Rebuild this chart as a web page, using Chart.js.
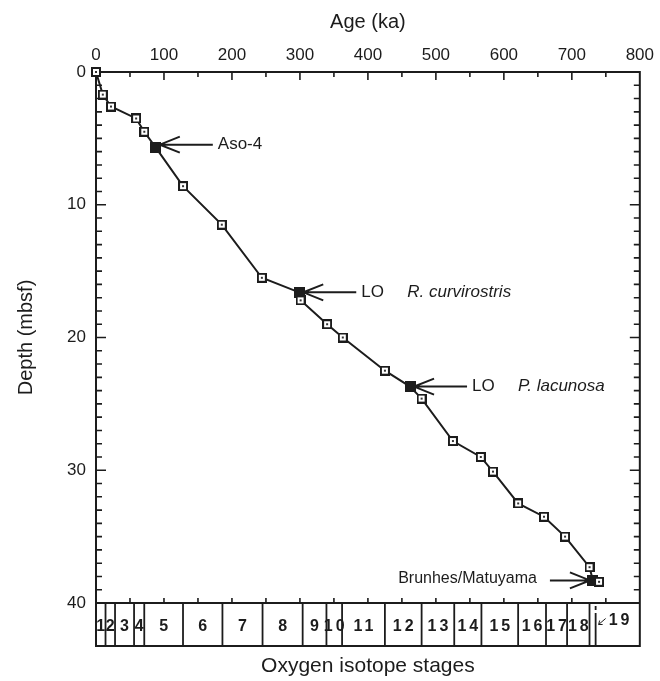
<!DOCTYPE html>
<html>
<head>
<meta charset="utf-8">
<script src="https://cdn.jsdelivr.net/npm/chart.js@4.4.1/dist/chart.umd.min.js"></script>
<style>
  body { margin: 0; background: #fff; }
</style>
</head>
<body>
<canvas id="ageDepth" width="660" height="681"></canvas>
<script>
// age-depth points, ka vs mbsf
const ages = [0, 10, 22, 59, 71, 88, 128, 185, 244, 299, 301, 340, 363, 425, 462, 479, 525, 566, 584, 621, 659, 690, 726, 731, 740];
const depths = [0, 1.7, 2.6, 3.5, 4.5, 5.7, 8.6, 11.5, 15.5, 16.6, 17.2, 19.0, 20.0, 22.5, 23.7, 24.6, 27.8, 29.0, 30.1, 32.5, 33.5, 35.0, 37.3, 38.3, 38.4];

// datum levels (index into the series above)
const datumIndex = [5, 9, 14, 23];
const datumLabels = ["Aso-4", "LO", "LO", "Brunhes/Matuyama"];
const datumTaxa = [null, "R. curvirostris", "P. lacunosa", null];

// oxygen isotope stage boundaries (ka) and names
const stageBounds = [0, 14, 28, 56, 71, 128, 186, 245, 304, 339, 362, 425, 479, 527, 567, 621, 662, 693, 726, 735, 800];
const stageLabels = ["1", "2", "3", "4", "5", "6", "7", "8", "9", "10", "11", "12", "13", "14", "15", "16", "17", "18", "19", ""];

const ageTicks = [0, 100, 200, 300, 400, 500, 600, 700, 800];
const depthTicks = [0, 10, 20, 30, 40];

const ink = "#1c1c1c";
const fontFamily = '"Liberation Sans", Arial, Helvetica, sans-serif';
const bandHeight = 43;

function makeMark(filled) {
	const c = document.createElement("canvas");
	const s = filled ? 11 : 10;
	c.width = c.height = s;
	const g = c.getContext("2d");
	g.fillStyle = ink;
	g.fillRect(0, 0, s, s);
	if (!filled) {
		g.fillStyle = "#fff";
		g.fillRect(2, 2, 6, 6);
		g.fillStyle = "#333";
		g.fillRect(4, 4, 2, 2);
	}
	return c;
}
const openMark = makeMark(false);
const solidMark = makeMark(true);

function arrow(ctx, tipX, tipY, tailX, dir) {
	// open arrowhead pointing toward the tip, dir = +1 when the tail is on the right
	ctx.beginPath();
	ctx.moveTo(tailX, tipY);
	ctx.lineTo(tipX, tipY);
	ctx.moveTo(tipX + dir * 20, tipY - 8);
	ctx.lineTo(tipX, tipY);
	ctx.lineTo(tipX + dir * 20, tipY + 8);
	ctx.stroke();
}

const framePlugin = {
	id: "frame",
	beforeDatasetsDraw(chart) {
		const { ctx, chartArea: a, scales: { x, y } } = chart;
		const bandBottom = a.bottom + bandHeight;
		ctx.save();
		ctx.strokeStyle = ink;
		ctx.lineWidth = 2;
		ctx.strokeRect(a.left, a.top, a.right - a.left, bandBottom - a.top);
		ctx.beginPath();
		ctx.moveTo(a.left, a.bottom);
		ctx.lineTo(a.right, a.bottom);
		ctx.stroke();

		// inward ticks
		ctx.lineWidth = 1.6;
		ctx.beginPath();
		for (let v = 50; v < 800; v += 50) {
			const px = x.getPixelForValue(v);
			ctx.moveTo(px, a.top);
			ctx.lineTo(px, a.top + (v % 100 === 0 ? 8 : 5));
			ctx.moveTo(px, a.bottom);
			ctx.lineTo(px, a.bottom - 5);
		}
		for (let d = 1; d < 40; d++) {
			const py = y.getPixelForValue(d);
			const len = d % 10 === 0 ? 10 : 6;
			ctx.moveTo(a.left, py);
			ctx.lineTo(a.left + len, py);
			ctx.moveTo(a.right, py);
			ctx.lineTo(a.right - len, py);
		}
		ctx.stroke();

		// isotope stage band: solid boundaries, the last one (start of the unnamed box) broken at the top
		ctx.lineWidth = 1.8;
		stageBounds.slice(1, -1).forEach((b, i) => {
			const px = x.getPixelForValue(b);
			ctx.beginPath();
			if (stageLabels[i + 1] === "") {
				ctx.moveTo(px, a.bottom + 3);
				ctx.lineTo(px, a.bottom + 7);
				ctx.moveTo(px, a.bottom + 10);
			} else {
				ctx.moveTo(px, a.bottom);
			}
			ctx.lineTo(px, bandBottom);
			ctx.stroke();
		});

		ctx.fillStyle = ink;
		ctx.font = "bold 16px " + fontFamily;
		ctx.textBaseline = "middle";
		ctx.textAlign = "center";
		const labelY = a.bottom + bandHeight / 2 + 2;
		stageLabels.forEach((lab, i) => {
			if (!lab) return;
			const x0 = x.getPixelForValue(stageBounds[i]);
			const x1 = x.getPixelForValue(stageBounds[i + 1]);
			ctx.letterSpacing = lab.length > 1 ? "3px" : "0px";
			if (x1 - x0 < 8) {
				// too narrow: label sits in the next box with a pointer
				ctx.textAlign = "left";
				ctx.fillText(lab, x1 + 13, labelY - 6);
				ctx.lineWidth = 1;
				ctx.beginPath();
				ctx.moveTo(x1 + 10, labelY - 8);
				ctx.lineTo(x1 + 3, labelY - 2);
				ctx.moveTo(x1 + 3, labelY - 2);
				ctx.lineTo(x1 + 4, labelY - 6);
				ctx.moveTo(x1 + 3, labelY - 2);
				ctx.lineTo(x1 + 7, labelY - 2);
				ctx.stroke();
				ctx.textAlign = "center";
			} else {
				ctx.fillText(lab, (x0 + x1) / 2 + (lab.length > 1 ? 1.5 : 0), labelY);
			}
		});
		ctx.letterSpacing = "0px";

		ctx.font = "21px " + fontFamily;
		ctx.fillText("Oxygen isotope stages", (a.left + a.right) / 2, 666);
		ctx.restore();
	},
	afterDatasetsDraw(chart) {
		const { ctx, scales: { x, y } } = chart;
		ctx.save();
		ctx.strokeStyle = ink;
		ctx.fillStyle = ink;
		ctx.lineWidth = 2;
		ctx.textBaseline = "middle";
		datumIndex.forEach((idx, k) => {
			const px = x.getPixelForValue(ages[idx]);
			const py = y.getPixelForValue(depths[idx]);
			if (k === datumIndex.length - 1) {
				arrow(ctx, px - 3, py, px - 43, -1);
				ctx.font = "16px " + fontFamily;
				ctx.textAlign = "right";
				ctx.fillText(datumLabels[k], px - 56, py - 2);
				return;
			}
			const ay = k === 0 ? py - 3 : py;
			arrow(ctx, px + 4, ay, px + 57, 1);
			ctx.textAlign = "left";
			ctx.font = "17px " + fontFamily;
			ctx.fillText(datumLabels[k], px + 62, ay);
			if (datumTaxa[k]) {
				ctx.font = "italic 17px " + fontFamily;
				ctx.fillText(datumTaxa[k], px + 108, ay);
			}
		});
		ctx.restore();
	},
};

const tickFont = { family: fontFamily, size: 17 };
const titleFont = { family: fontFamily, size: 20 };

new Chart(document.getElementById("ageDepth"), {
	type: "scatter",
	data: {
		datasets: [
			{
				data: ages.map((a, i) => ({ x: a, y: depths[i] })),
				showLine: true,
				borderColor: ink,
				borderWidth: 2,
				tension: 0,
				clip: false,
				pointStyle: (c) => (datumIndex.includes(c.dataIndex) ? solidMark : openMark),
				pointRadius: 5,
			},
		],
	},
	options: {
		responsive: false,
		animation: false,
		layout: { padding: { left: 0, right: 20, top: 0, bottom: 78 } },
		plugins: {
			legend: { display: false },
			tooltip: { enabled: false },
		},
		scales: {
			x: {
				type: "linear",
				position: "top",
				min: 0,
				max: 800,
				afterBuildTicks: (s) => {
					s.ticks = ageTicks.map((v) => ({ value: v }));
				},
				afterFit: (s) => {
					s.height = 72;
				},
				grid: { display: false, drawTicks: false },
				border: { display: false },
				ticks: { font: tickFont, color: ink, padding: 6, maxRotation: 0 },
				title: {
					display: true,
					text: "Age (ka)",
					font: titleFont,
					color: ink,
					padding: { top: 10, bottom: 0 },
				},
			},
			y: {
				type: "linear",
				reverse: true,
				min: 0,
				max: 40,
				afterBuildTicks: (s) => {
					s.ticks = depthTicks.map((v) => ({ value: v }));
				},
				afterFit: (s) => {
					s.width = 96;
				},
				grid: { display: false, drawTicks: false },
				border: { display: false },
				ticks: { font: tickFont, color: ink, padding: 10 },
				title: {
					display: true,
					text: "Depth (mbsf)",
					font: titleFont,
					color: ink,
					padding: { top: 14, bottom: 0 },
				},
			},
		},
	},
	plugins: [framePlugin],
});
</script>
</body>
</html>
